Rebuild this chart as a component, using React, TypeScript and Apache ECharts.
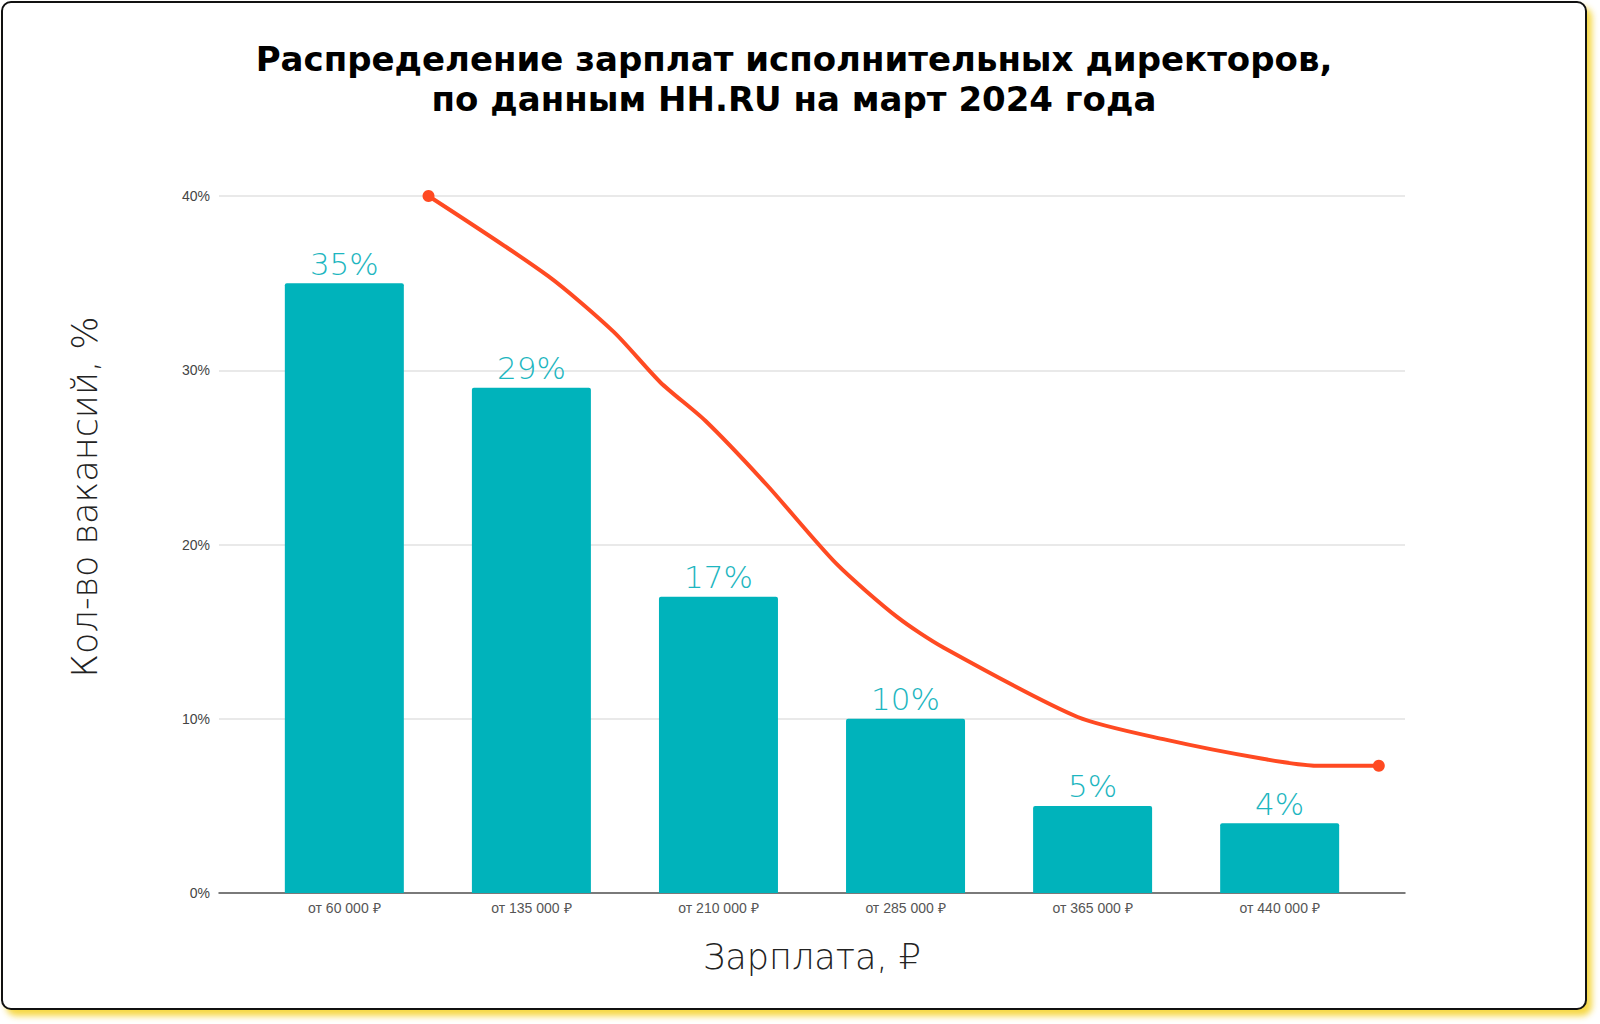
import React, { useEffect, useRef } from "react";
import * as echarts from "echarts";

const categories = ["от 60 000 ₽", "от 135 000 ₽", "от 210 000 ₽", "от 285 000 ₽", "от 365 000 ₽", "от 440 000 ₽"];
const barValues = [35, 29, 17, 10, 5, 4];
const yTicks = [0, 10, 20, 30, 40];
const trendX = [0.45, 1.09, 1.44, 1.69, 1.93, 2.26, 2.63, 2.96, 3.2, 3.92, 4.39, 4.91, 5.2, 5.53];
const trendY = [40, 35.4, 32.2, 29.3, 27.1, 23.4, 18.9, 15.8, 14.1, 10.1, 8.8, 7.7, 7.3, 7.3];

const titleLines = ["Распределение зарплат исполнительных директоров,", "по данным HH.RU на март 2024 года"];
const yName = "Кол-во вакансий, %";
const xName = "Зарплата, ₽";

const thinFont = "'DejaVu Sans', Roboto, sans-serif";

export default function App() {
  const ref = useRef<HTMLDivElement>(null);
  useEffect(() => {
    document.body.style.margin = "0";
    const chart = echarts.init(ref.current!, null, { renderer: "svg" });
    const trendData = trendX.map((x, i) => ({
      value: [x, trendY[i]],
      symbol: i === 0 || i === trendX.length - 1 ? "circle" : "none",
    }));
    chart.setOption({
      animation: false,
      backgroundColor: "transparent",
      graphic: [
        ...titleLines.map((t, i) => ({
          type: "text",
          x: 794,
          y: 59 + i * 40,
          style: {
            text: t,
            font: "bold 34px 'DejaVu Sans'",
            fill: "#000",
            textAlign: "center",
            textVerticalAlign: "middle",
          },
        })),
        {
          type: "text",
          x: 85,
          y: 497,
          rotation: Math.PI / 2,
          style: {
            text: yName,
            font: `200 35px ${thinFont}`,
            fill: "#222",
            textAlign: "center",
            textVerticalAlign: "middle",
          },
        },
      ],
      grid: { left: 219, right: 195, top: 196, bottom: 131 },
      xAxis: {
        type: "value",
        min: -0.67,
        max: 5.67,
        name: xName,
        nameLocation: "middle",
        nameGap: 46,
        nameTextStyle: { fontFamily: thinFont, fontWeight: 200, fontSize: 35, color: "#222" },
        axisLine: { show: true, lineStyle: { color: "#555", width: 1.5 } },
        axisTick: { show: false },
        splitLine: { show: false },
        axisLabel: {
          customValues: [0, 1, 2, 3, 4, 5],
          formatter: (v: number) => categories[Math.round(v)] ?? "",
          fontFamily: "Arial",
          fontSize: 14,
          color: "#555",
          margin: 8,
        },
      },
      yAxis: {
        type: "value",
        min: 0,
        max: 40,
        interval: 10,
        axisLine: { show: false },
        axisTick: { show: false },
        splitLine: { lineStyle: { color: "#e2e2e2", width: 1.5 } },
        axisLabel: {
          customValues: yTicks,
          formatter: (v: number) => `${v}%`,
          fontFamily: "Arial",
          fontSize: 14,
          color: "#444",
          margin: 9,
        },
      },
      series: [
        {
          type: "bar",
          data: barValues.map((v, i) => [i, v]),
          barWidth: 119,
          itemStyle: { color: "#00b3bb", borderRadius: [2, 2, 0, 0] },
          label: {
            show: true,
            position: "top",
            distance: 4,
            formatter: (p: any) => `${p.value[1]}%`,
            fontFamily: thinFont,
            fontWeight: 200,
            fontSize: 31,
            color: "#1db6c0",
          },
          z: 2,
        },
        {
          type: "line",
          data: trendData,
          smooth: 0.25,
          symbolSize: 12,
          showSymbol: true,
          lineStyle: { color: "#ff4a22", width: 4 },
          itemStyle: { color: "#ff4a22" },
          z: 3,
        },
      ],
    });
    return () => chart.dispose();
  }, []);
  return (
    <div style={{ position: "fixed", left: 0, top: 0, width: 1600, height: 1024, background: "#fff" }}>
      <div
        style={{
          position: "absolute",
          left: 1,
          top: 1,
          width: 1586,
          height: 1009,
          boxSizing: "border-box",
          border: "2px solid #111",
          borderRadius: 10,
          background: "#fff",
          boxShadow: "5px 6px 6px rgba(246, 214, 60, 0.95)",
        }}
      />
      <div ref={ref} style={{ position: "absolute", left: 0, top: 0, width: 1600, height: 1024 }} />
    </div>
  );
}
